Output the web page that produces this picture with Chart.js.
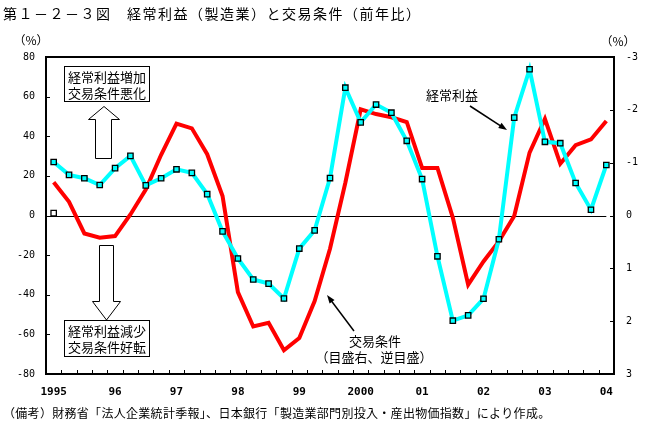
<!DOCTYPE html>
<html lang="ja">
<head>
<meta charset="utf-8">
<script src="https://cdn.jsdelivr.net/npm/chart.js@4.4.1/dist/chart.umd.min.js"></script>
<style>
    body { margin: 0; background: #fff; }
</style>
</head>
<body>
<canvas id="TradeCanvas" width="653" height="427"></canvas>
<script>
// year captions shown under the first quarter of each year
const yearLabels = ['1995', '96', '97', '98', '99', '2000', '01', '02', '03', '04'];
// quarters 1995Q1 .. 2004Q1
const quarterLabels = [];
for (let y = 0; y < yearLabels.length; y++) {
    for (let q = 1; q <= 4; q++) {
        if (y === yearLabels.length - 1 && q > 1) break;
        quarterLabels.push(`${1995 + y}Q${q}`);
    }
}

// 経常利益（製造業）前年比, %, left axis
const profits = [27.0, 20.5, 18.8, 15.4, 23.9, 30.1, 15.2, 18.8, 23.3, 21.5,
    10.8, -8.0, -21.7, -32.3, -34.4, -41.9, -16.7, -7.5, 18.9, 64.5,
    47.0, 56.0, 51.9, 37.7, 18.4, -20.6, -53.1, -50.4, -42.0, -12.0,
    49.4, 73.8, 37.2, 36.5, 16.4, 2.9, 25.5];
// 交易条件 前年比, %, right axis (reversed)
const termsOfTrade = [-0.63, -0.26, 0.34, 0.42, 0.39, -0.02, -0.49, -1.15, -1.74, -1.65,
    -1.16, -0.37, 1.45, 2.10, 2.03, 2.55, 2.32, 1.62, 0.63, -0.62,
    -2.01, -1.92, -1.86, -1.77, -0.90, -0.90, 0.04, 1.31, 0.87, 0.49,
    0.01, -1.19, -1.83, -0.98, -1.33, -1.44, -1.79];
// lone hollow marker near zero in the first quarter
const loneMarker = [1.2];

const CYAN = '#00FFFF';
const RED = '#FF0000';
const JP = '"Noto Sans CJK JP", "Noto Sans", sans-serif';

//---------------------- DRAWING HELPERS

function blockArrow(ctx, pts) {
    ctx.beginPath();
    ctx.moveTo(pts[0][0], pts[0][1]);
    for (let i = 1; i < pts.length; i++) ctx.lineTo(pts[i][0], pts[i][1]);
    ctx.closePath();
    ctx.fillStyle = '#fff';
    ctx.fill();
    ctx.lineWidth = 1;
    ctx.strokeStyle = '#000';
    ctx.stroke();
}

function lineArrow(ctx, x1, y1, x2, y2) {
    const ang = Math.atan2(y2 - y1, x2 - x1);
    ctx.strokeStyle = '#000';
    ctx.fillStyle = '#000';
    ctx.lineWidth = 1.5;
    ctx.beginPath();
    ctx.moveTo(x1, y1);
    ctx.lineTo(x2 - 4 * Math.cos(ang), y2 - 4 * Math.sin(ang));
    ctx.stroke();
    ctx.beginPath();
    ctx.moveTo(x2, y2);
    ctx.lineTo(x2 - 9 * Math.cos(ang - 0.35), y2 - 9 * Math.sin(ang - 0.35));
    ctx.lineTo(x2 - 9 * Math.cos(ang + 0.35), y2 - 9 * Math.sin(ang + 0.35));
    ctx.closePath();
    ctx.fill();
}

function textBox(ctx, x, y, w, h, lines) {
    ctx.fillStyle = '#fff';
    ctx.fillRect(x, y, w, h);
    ctx.strokeStyle = '#000';
    ctx.lineWidth = 1;
    ctx.strokeRect(x + 0.5, y + 0.5, w, h);
    ctx.fillStyle = '#000';
    ctx.font = `13px ${JP}`;
    ctx.textAlign = 'center';
    ctx.textBaseline = 'middle';
    lines.forEach((t, i) => ctx.fillText(t, x + w / 2 + 0.5, y + 11 + i * 16.5));
}

const framePlugin = {
    id: 'frame',
    beforeDatasetsDraw(chart) {
        const ctx = chart.ctx;
        const x = chart.scales.x;
        const y = chart.scales.y;
        const zy = Math.round(y.getPixelForValue(0)) + 0.5;
        ctx.save();
        ctx.strokeStyle = '#000';
        ctx.lineWidth = 1;
        ctx.beginPath();
        ctx.moveTo(chart.chartArea.left, zy);
        ctx.lineTo(x.getPixelForValue(quarterLabels.length - 1), zy);
        ctx.stroke();
        ctx.restore();
    },
    afterDraw(chart) {
        const ctx = chart.ctx;
        const a = chart.chartArea;
        const x = chart.scales.x;
        const y = chart.scales.y;
        const y2 = chart.scales.y2;
        ctx.save();
        // frame
        ctx.strokeStyle = '#000';
        ctx.lineWidth = 2;
        ctx.strokeRect(a.left, a.top, a.right - a.left, a.bottom - a.top);
        // inner tick marks
        ctx.lineWidth = 1;
        ctx.beginPath();
        for (let i = 1; i < quarterLabels.length; i++) {
            const px = Math.round((x.getPixelForValue(i - 1) + x.getPixelForValue(i)) / 2) + 0.5;
            ctx.moveTo(px, a.bottom);
            ctx.lineTo(px, a.bottom - 4);
        }
        for (let v = -60; v <= 60; v += 20) {
            const py = Math.round(y.getPixelForValue(v)) + 0.5;
            ctx.moveTo(a.left, py);
            ctx.lineTo(a.left + 4, py);
        }
        for (let v = -2; v <= 2; v++) {
            const py = Math.round(y2.getPixelForValue(v)) + 0.5;
            ctx.moveTo(a.right, py);
            ctx.lineTo(a.right - 4, py);
        }
        ctx.stroke();

        // titles
        ctx.fillStyle = '#000';
        ctx.textBaseline = 'middle';
        ctx.textAlign = 'left';
        ctx.font = `14px ${JP}`;
        ctx.letterSpacing = '1.5px';
        ctx.fillText('第１－２－３図　経常利益（製造業）と交易条件（前年比）', 3, 14);
        ctx.letterSpacing = '0.3px';
        ctx.font = `12px ${JP}`;
        ctx.fillText('（備考）財務省「法人企業統計季報」、日本銀行「製造業部門別投入・産出物価指数」により作成。', 3, 413);
        ctx.letterSpacing = '0px';
        ctx.font = `12px ${JP}`;
        ctx.textAlign = 'center';
        ctx.fillText('（%）', 31, 40);
        ctx.fillText('（%）', 618, 41);

        // annotation boxes and block arrows
        textBox(ctx, 64, 66, 85, 35, ['経常利益増加', '交易条件悪化']);
        blockArrow(ctx, [[104, 106.5], [119.5, 119.5], [111.5, 119.5], [111.5, 158.5],
            [95.5, 158.5], [95.5, 119.5], [88.5, 119.5]]);
        blockArrow(ctx, [[99.5, 245.5], [113.5, 245.5], [113.5, 301.5], [120.5, 301.5],
            [106.5, 320], [92.5, 301.5], [99.5, 301.5]]);
        textBox(ctx, 64, 320, 85, 36, ['経常利益減少', '交易条件好転']);

        // series captions
        ctx.fillStyle = '#000';
        ctx.font = `13px ${JP}`;
        ctx.textAlign = 'center';
        ctx.textBaseline = 'middle';
        ctx.fillText('交易条件', 375, 341);
        ctx.fillText('（目盛右、逆目盛）', 374, 357);
        lineArrow(ctx, 354, 331, 327, 295);
        ctx.fillStyle = '#000';
        ctx.fillText('経常利益', 452, 95);
        lineArrow(ctx, 470, 106, 507, 130);
        ctx.restore();
    }
};

//---------------------- CHART

const tickFont = { family: 'DejaVu Sans Mono', size: 10 };

const tradeChart = new Chart(document.getElementById('TradeCanvas').getContext('2d'), {
    type: 'line',
    data: {
        labels: quarterLabels,
        datasets: [
            {
                label: '経常利益',
                data: profits,
                yAxisID: 'y',
                borderColor: CYAN,
                borderWidth: 4,
                pointStyle: 'rect',
                pointRadius: 3.8,
                pointBackgroundColor: CYAN,
                pointBorderColor: '#000',
                pointBorderWidth: 1.3,
                tension: 0,
                order: 1
            },
            {
                label: 'lone',
                data: loneMarker,
                yAxisID: 'y',
                showLine: false,
                pointStyle: 'rect',
                pointRadius: 3.8,
                pointBackgroundColor: '#fff',
                pointBorderColor: '#000',
                pointBorderWidth: 1.3,
                order: 0
            },
            {
                label: '交易条件',
                data: termsOfTrade,
                yAxisID: 'y2',
                borderColor: RED,
                borderWidth: 4,
                pointRadius: 0,
                tension: 0,
                order: 2
            }
        ]
    },
    options: {
        responsive: false,
        animation: false,
        events: [],
        layout: { padding: { top: 57, left: 0, right: 0, bottom: 0 } },
        plugins: {
            legend: { display: false },
            tooltip: { enabled: false },
            title: { display: false }
        },
        scales: {
            x: {
                type: 'category',
                offset: true,
                grid: { display: false, drawTicks: false },
                border: { display: false },
                ticks: {
                    autoSkip: false,
                    maxRotation: 0,
                    padding: 12,
                    color: '#000',
                    font: { family: 'DejaVu Sans Mono', size: 11, weight: 'bold' },
                    callback: (value, index) => (index % 4 === 0 ? yearLabels[index / 4] : '')
                },
                afterFit: scale => { scale.height = 53; }
            },
            y: {
                position: 'left',
                min: -80,
                max: 80,
                grid: { display: false, drawTicks: false },
                border: { display: false },
                ticks: { stepSize: 20, padding: 11, color: '#000', font: tickFont },
                afterFit: scale => { scale.width = 46; }
            },
            y2: {
                position: 'right',
                min: -3,
                max: 3,
                reverse: true,
                grid: { display: false, drawTicks: false },
                border: { display: false },
                ticks: { stepSize: 1, padding: 12, color: '#000', font: tickFont },
                afterFit: scale => { scale.width = 39; }
            }
        }
    },
    plugins: [framePlugin]
});
</script>
</body>
</html>
